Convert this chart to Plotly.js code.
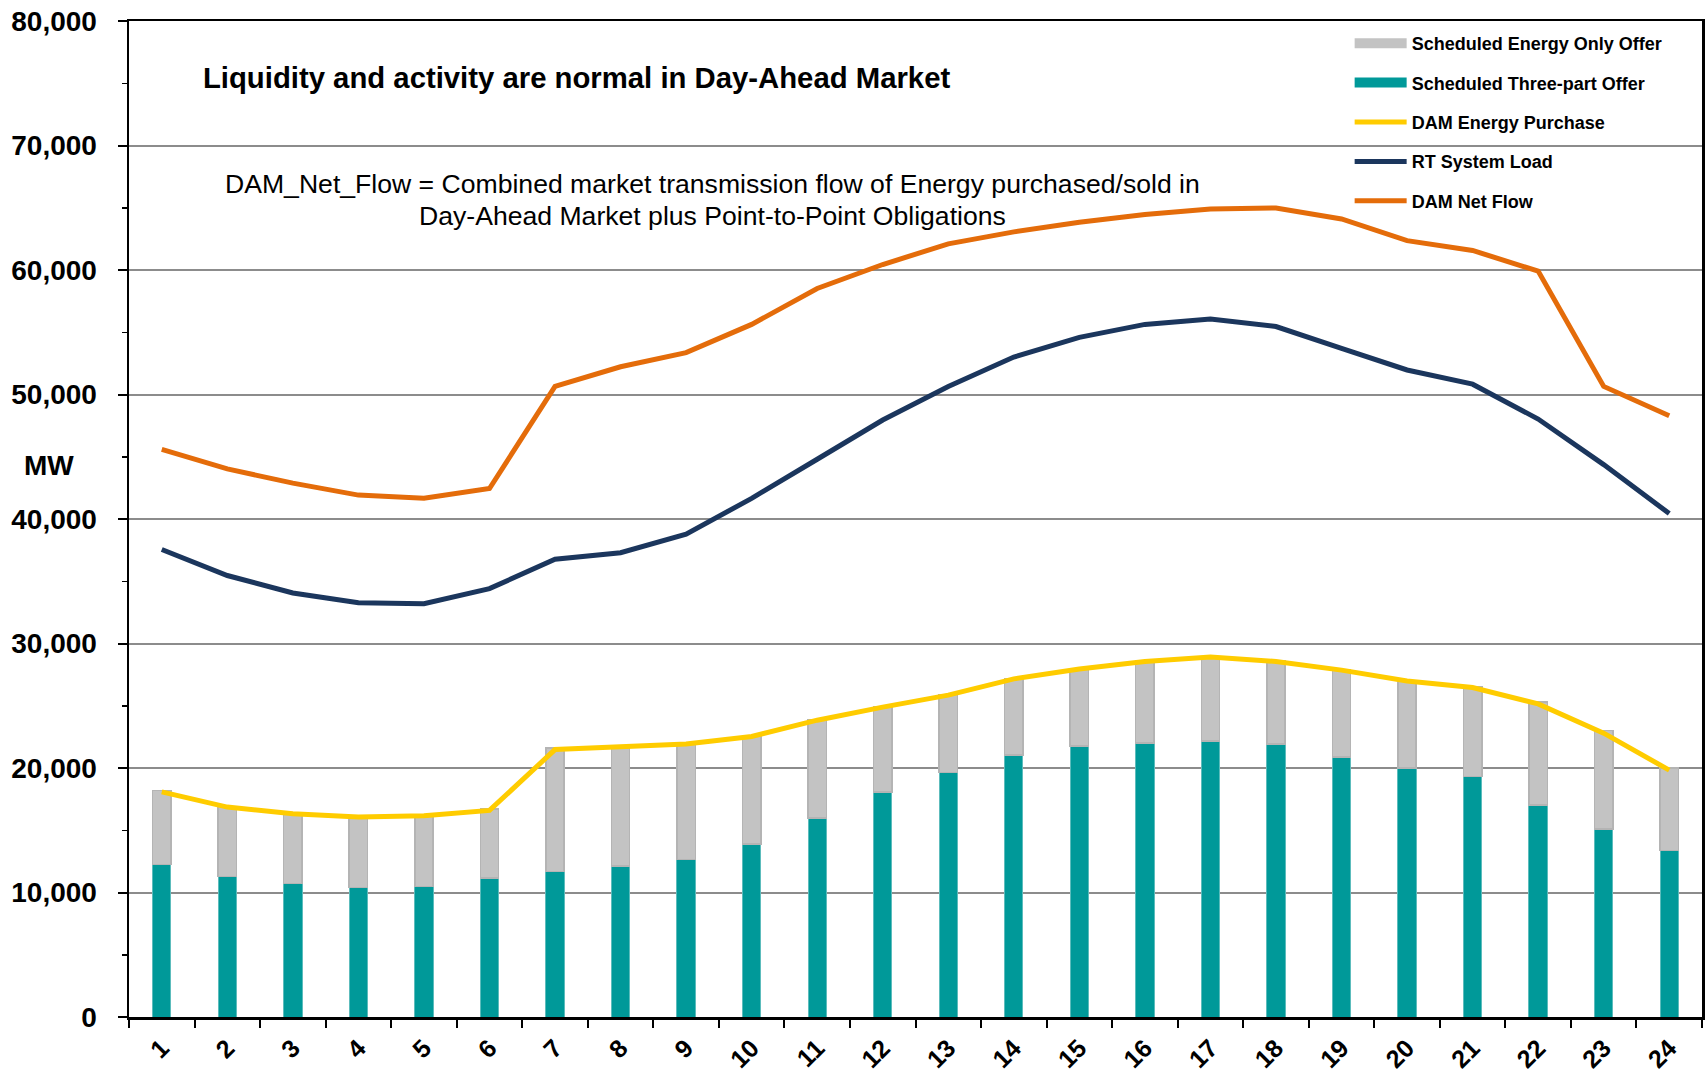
<!DOCTYPE html>
<html>
<head>
<meta charset="utf-8">
<script src="https://cdn.plot.ly/plotly-3.0.1.min.js"></script>
<style>html,body{margin:0;padding:0;background:#fff;}#chart{width:1705px;height:1073px;}</style>
</head>
<body>
<div id="chart"></div>
<script>
const hours = ['1','2','3','4','5','6','7','8','9','10','11','12','13','14','15','16','17','18','19','20','21','22','23','24'];
const threePartOffer = [12230,11270,10740,10390,10480,11180,11700,12140,12660,13890,15980,18080,19650,21050,21750,22010,22180,21920,20870,20000,19300,17030,15110,13360];
const energyOnlyOffer = [5970,5630,5660,5710,5720,5520,9900,9660,9340,8710,7920,6820,6250,6150,6250,6590,6770,6680,7030,7000,7200,8270,7890,6640];
const damEnergyPurchase = [18080,16860,16330,16070,16160,16590,21480,21750,21920,22530,23840,24890,25850,27160,27950,28560,28910,28560,27860,26990,26460,25150,22800,19830];
const rtSystemLoad = [37550,35460,34060,33270,33190,34410,36770,37290,38780,41660,44800,47950,50650,53010,54590,55630,56070,55460,53710,51970,50830,48030,44370,40440];
const damNetFlow = [45590,44020,42880,41920,41660,42450,50650,52230,53360,55630,58515,60440,62100,63060,63840,64450,64890,64980,64100,62360,61570,59910,50650,48300];
const noteLines = ['DAM_Net_Flow = Combined market transmission flow of Energy purchased/sold in',
                   'Day-Ahead Market plus Point-to-Point Obligations'];

const FONT = '"Liberation Sans", Arial, sans-serif';
const GREY = '#c3c3c3', TEAL = '#009999', YELLOW = '#ffcc00', NAVY = '#1b365d', ORANGE = '#e46c0a';

const traces = [
  {type:'bar', x:hours, y:threePartOffer, name:'Scheduled Three-part Offer', legendgroup:'g2', showlegend:false,
   marker:{color:TEAL, line:{color:'#5cbcbc', width:1}}},
  {type:'bar', x:hours, y:energyOnlyOffer, name:'Scheduled Energy Only Offer', legendgroup:'g1', showlegend:false,
   marker:{color:GREY, line:{color:'#b4b4b4', width:1.5}}},
  {type:'scatter', mode:'lines', x:[null], y:[null], name:'Scheduled Energy Only Offer', legendgroup:'g1', hoverinfo:'skip',
   line:{color:GREY, width:10}},
  {type:'scatter', mode:'lines', x:[null], y:[null], name:'Scheduled Three-part Offer', legendgroup:'g2', hoverinfo:'skip',
   line:{color:TEAL, width:10}},
  {type:'scatter', mode:'lines', x:hours, y:damEnergyPurchase, name:'DAM Energy Purchase', legendgroup:'g3',
   line:{color:YELLOW, width:5}},
  {type:'scatter', mode:'lines', x:hours, y:rtSystemLoad, name:'RT System Load', legendgroup:'g4',
   line:{color:NAVY, width:5}},
  {type:'scatter', mode:'lines', x:hours, y:damNetFlow, name:'DAM Net Flow', legendgroup:'g5',
   line:{color:ORANGE, width:5}}
];

const layout = {
  width:1705, height:1073,
  margin:{l:129, r:3, t:21, b:56},
  paper_bgcolor:'#fff', plot_bgcolor:'#fff',
  font:{family:FONT, color:'#000'},
  barmode:'stack', bargap:0.72,
  showlegend:true,
  legend:{x:0.776, xanchor:'left', y:0.996, yanchor:'top', bgcolor:'rgba(0,0,0,0)',
          font:{family:FONT, size:18, color:'#000', weight:'bold'},
          traceorder:'grouped', tracegroupgap:13, itemwidth:52},
  title:{text:'<b>Liquidity and activity are normal in Day-Ahead Market</b>', xref:'paper', x:0.047, xanchor:'left',
         yref:'container', y:1-78/1073, yanchor:'middle', font:{family:FONT, size:29.3, color:'#000'}},
  xaxis:{type:'category', showline:true, linecolor:'#000', linewidth:2.5, mirror:true,
         ticks:'outside', tickson:'boundaries', ticklen:8, tickwidth:2, tickcolor:'#000', ticklabelstandoff:4,
         tickangle:-45, tickfont:{family:FONT, size:25, color:'#000', weight:'bold'},
         showgrid:false, zeroline:false, fixedrange:true},
  yaxis:{range:[0,80000], dtick:10000, tickformat:',d', showline:true, linecolor:'#000', linewidth:2.5, mirror:true,
         ticks:'outside', ticklen:9, tickwidth:2, tickcolor:'#000', ticklabelstandoff:15,
         minor:{dtick:5000, ticks:'outside', ticklen:5, tickwidth:1.5, tickcolor:'#000', showgrid:false},
         showgrid:true, gridcolor:'#8c8c8c', gridwidth:2, zeroline:false,
         tickfont:{family:FONT, size:28, color:'#000', weight:'bold'}, fixedrange:true},
  annotations:[
    {text:noteLines[0], xref:'paper', yref:'paper', x:(712-129)/1573, y:(1017-184)/996, xanchor:'center', yanchor:'middle',
     showarrow:false, font:{family:FONT, size:26.6, color:'#000'}},
    {text:noteLines[1], xref:'paper', yref:'paper', x:(712-129)/1573, y:(1017-216)/996, xanchor:'center', yanchor:'middle',
     showarrow:false, font:{family:FONT, size:26.6, color:'#000'}},
    {text:'<b>MW</b>', xref:'paper', yref:'paper', x:(48.5-129)/1573, y:(1017-465)/996, xanchor:'center', yanchor:'middle',
     showarrow:false, font:{family:FONT, size:28, color:'#000'}}
  ]
};

Plotly.newPlot('chart', traces, layout, {displayModeBar:false, staticPlot:true});
</script>
</body>
</html>
